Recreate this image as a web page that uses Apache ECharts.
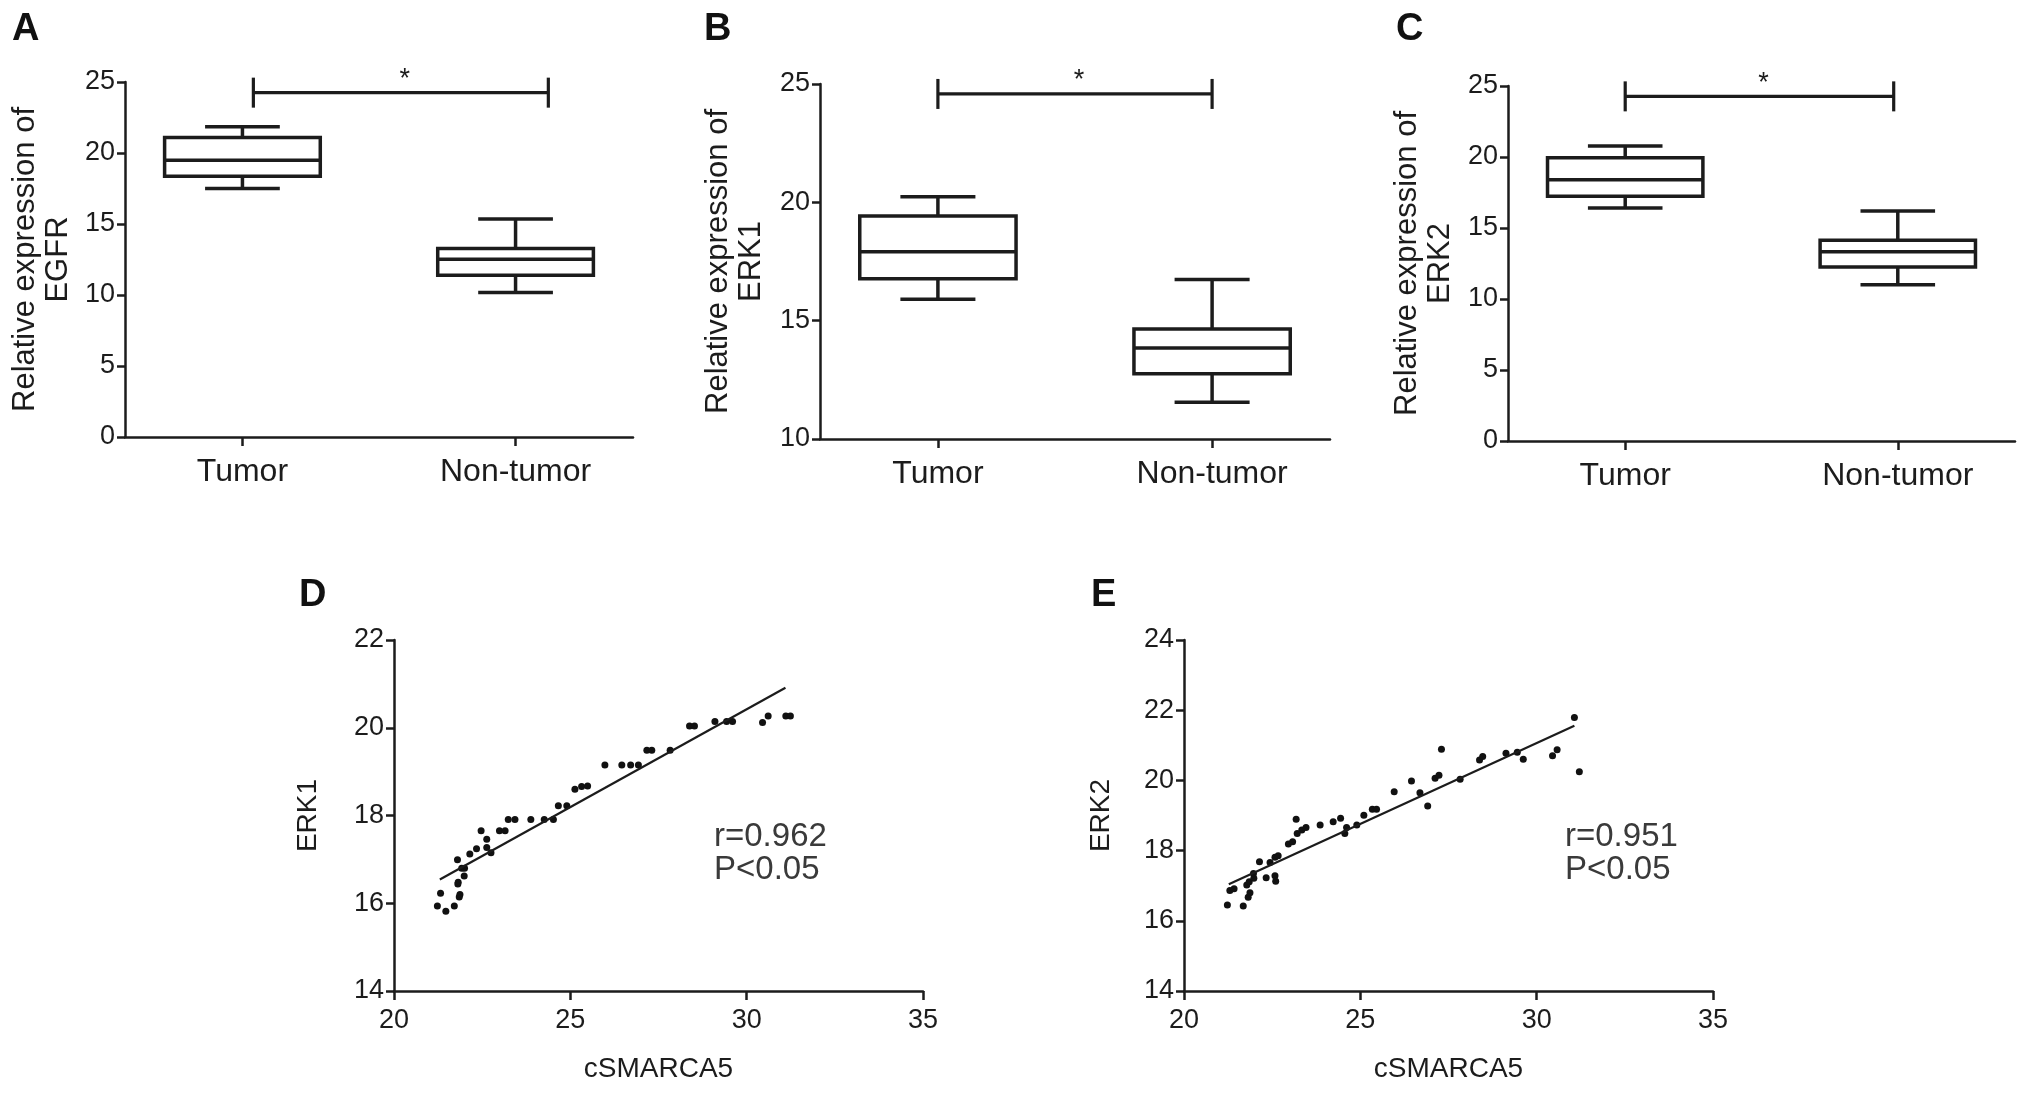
<!DOCTYPE html>
<html>
<head>
<meta charset="utf-8">
<script src="https://cdn.jsdelivr.net/npm/echarts@6/dist/echarts.min.js"></script>
<style>
  html, body { margin: 0; padding: 0; background: #fff; }
  #chart { width: 2031px; height: 1095px; }
</style>
</head>
<body>
<div id="chart"></div>
<script>
const groups = ['Tumor', 'Non-tumor'];
// box stats per group: [min, Q1, median, Q3, max]
const egfrBox = [[17.5, 18.37, 19.49, 21.09, 21.84], [10.17, 11.39, 12.51, 13.28, 15.35]];
const erk1Box = [[15.91, 16.77, 17.91, 19.42, 20.24], [11.55, 12.76, 13.85, 14.65, 16.74]];
const erk2Box = [[16.41, 17.23, 18.40, 19.95, 20.77], [11.0, 12.25, 13.33, 14.13, 16.2]];
// significance bracket: [x from, x to, y]
const sigA = [1.04, 2.12, 24.25];
const sigB = [1.0, 2.0, 24.58];
const sigC = [1.0, 1.985, 24.27];

// cSMARCA5 vs ERK1 / ERK2
const erk1Points = [
  [21.32, 16.23], [21.23, 15.94], [21.47, 15.82], [21.71, 15.94], [21.85, 16.14], [21.87, 16.20],
  [21.81, 16.44], [21.82, 16.48], [21.99, 16.62], [21.80, 16.99], [21.92, 16.80], [22.00, 16.80],
  [22.15, 17.12], [22.34, 17.24], [22.47, 17.65], [22.63, 17.46], [22.63, 17.27], [22.75, 17.15],
  [22.99, 17.65], [23.15, 17.65], [23.24, 17.91], [23.43, 17.91], [23.88, 17.91], [24.26, 17.91],
  [24.52, 17.91], [24.66, 18.22], [24.90, 18.22], [25.13, 18.60], [25.32, 18.66], [25.49, 18.67],
  [25.98, 19.15], [26.46, 19.15], [26.71, 19.15], [26.93, 19.15], [27.17, 19.49], [27.31, 19.49],
  [27.83, 19.49], [28.38, 20.04], [28.52, 20.04], [29.10, 20.14], [29.43, 20.14], [29.60, 20.14],
  [30.45, 20.12], [30.61, 20.27], [31.11, 20.27], [31.24, 20.27]
];
const erk2Points = [
  [21.23, 16.45], [21.68, 16.42], [21.30, 16.86], [21.42, 16.91], [21.82, 16.67], [21.87, 16.80],
  [21.78, 17.02], [21.85, 17.11], [21.98, 17.21], [21.97, 17.35], [22.14, 17.68], [22.33, 17.23],
  [22.58, 17.28], [22.60, 17.13], [22.44, 17.66], [22.58, 17.81], [22.67, 17.85], [22.96, 18.19],
  [23.08, 18.25], [23.21, 18.49], [23.34, 18.59], [23.46, 18.66], [23.18, 18.89], [23.86, 18.73],
  [24.23, 18.82], [24.44, 18.92], [24.56, 18.49], [24.61, 18.66], [24.90, 18.73], [25.10, 19.01],
  [25.34, 19.18], [25.46, 19.18], [25.96, 19.68], [26.45, 19.98], [26.69, 19.65], [26.91, 19.27],
  [27.12, 20.06], [27.23, 20.15], [27.30, 20.89], [27.83, 20.03], [28.38, 20.58], [28.47, 20.68],
  [29.13, 20.77], [29.45, 20.80], [29.62, 20.60], [30.45, 20.70], [30.58, 20.87], [31.07, 21.79],
  [31.21, 20.25]
];
const erk1Fit = [[21.3, 16.54], [31.1, 20.91]];
const erk2Fit = [[21.27, 17.04], [31.07, 21.56]];
const erk1Stats = ['r=0.962', 'P<0.05'];
const erk2Stats = ['r=0.951', 'P<0.05'];

const INK = '#1c1c1c';
const FONT = "'Liberation Sans', Arial, sans-serif";

const chart = echarts.init(document.getElementById('chart'));

function seg(x1, y1, x2, y2, w) {
  return { type: 'line', shape: { x1, y1, x2, y2 }, style: { stroke: INK, lineWidth: w || 3.5 } };
}

function renderBox(params, api) {
  const x = api.value(0);
  const lo = api.coord([x, api.value(1)]);
  const q1 = api.coord([x, api.value(2)]);
  const md = api.coord([x, api.value(3)]);
  const q3 = api.coord([x, api.value(4)]);
  const hi = api.coord([x, api.value(5)]);
  const bw = api.size([1, 0])[0] * 0.57;
  const cw = bw * 0.48;
  const cx = md[0];
  return {
    type: 'group',
    children: [
      { type: 'rect', shape: { x: cx - bw / 2, y: q3[1], width: bw, height: q1[1] - q3[1] },
        style: { stroke: INK, lineWidth: 3.5, fill: 'none' } },
      seg(cx - bw / 2, md[1], cx + bw / 2, md[1]),
      seg(cx, q3[1], cx, hi[1]),
      seg(cx, q1[1], cx, lo[1]),
      seg(cx - cw / 2, hi[1], cx + cw / 2, hi[1]),
      seg(cx - cw / 2, lo[1], cx + cw / 2, lo[1])
    ]
  };
}

function renderSig(params, api) {
  const a = api.coord([api.value(0), api.value(2)]);
  const b = api.coord([api.value(1), api.value(2)]);
  const h = 15;
  return {
    type: 'group',
    children: [
      seg(a[0], a[1], b[0], b[1], 3.2),
      seg(a[0], a[1] - h, a[0], a[1] + h, 3.2),
      seg(b[0], b[1] - h, b[0], b[1] + h, 3.2),
      { type: 'text', style: { text: '*', x: (a[0] + b[0]) / 2 + 4, y: a[1] - 13,
        textAlign: 'center', textVerticalAlign: 'middle', align: 'center', verticalAlign: 'middle',
        font: '27px ' + FONT, fill: INK } }
    ]
  };
}

const grids = [
  { left: 125, top: 82, width: 508, height: 355 },
  { left: 820, top: 84, width: 510, height: 355 },
  { left: 1508, top: 86, width: 507, height: 355 },
  { left: 394, top: 640, width: 529, height: 351 },
  { left: 1184, top: 640, width: 529, height: 351 }
];

const lineStyle = { color: INK, width: 2.5 };

function boxX(gi) {
  return {
    type: 'value', gridIndex: gi, min: 0.57, max: 2.43,
    axisLine: { show: true, onZero: false, lineStyle },
    axisTick: { show: true, length: 9, customValues: [1, 2], lineStyle },
    axisLabel: { customValues: [1, 2], formatter: v => groups[Math.round(v) - 1],
      fontSize: 32, fontFamily: FONT, color: INK, margin: 19 },
    splitLine: { show: false }
  };
}

function numX(gi) {
  return {
    type: 'value', gridIndex: gi, min: 20, max: 35, interval: 5,
    name: 'cSMARCA5', nameLocation: 'middle', nameGap: 64,
    nameTextStyle: { fontSize: 28, fontFamily: FONT, color: INK },
    axisLine: { show: true, onZero: false, lineStyle },
    axisTick: { show: true, length: 9, lineStyle },
    axisLabel: { fontSize: 27, fontFamily: FONT, color: INK, margin: 16 },
    splitLine: { show: false }
  };
}

function numY(gi, min, max, interval, name, gap, size) {
  return {
    type: 'value', gridIndex: gi, min, max, interval,
    name, nameLocation: 'middle', nameGap: gap, nameRotate: 90,
    nameTextStyle: { fontSize: size, lineHeight: 33, fontFamily: FONT, color: INK },
    axisLine: { show: true, onZero: false, lineStyle },
    axisTick: { show: true, length: 8, lineStyle },
    axisLabel: { fontSize: 27, fontFamily: FONT, color: INK, margin: 10 },
    splitLine: { show: false }
  };
}

function boxSeries(idx, boxes) {
  return {
    type: 'custom', xAxisIndex: idx, yAxisIndex: idx, renderItem: renderBox,
    encode: { x: 0, y: [1, 2, 3, 4, 5] },
    data: boxes.map((b, i) => [i + 1].concat(b))
  };
}

function sigSeries(idx, sig) {
  return {
    type: 'custom', xAxisIndex: idx, yAxisIndex: idx, renderItem: renderSig,
    encode: { x: [0, 1], y: 2 }, data: [sig]
  };
}

function letter(text, x, cy) {
  return { type: 'text', left: x, top: cy - 19,
    style: { text, font: 'bold 38px ' + FONT, fill: '#111' } };
}

function stats(lines, x, y) {
  return { type: 'text', left: x, top: y,
    style: { text: lines.join('\n'), font: '33px ' + FONT, lineHeight: 33, fill: '#3a3a3a' } };
}

chart.setOption({
  animation: false,
  backgroundColor: '#fff',
  grid: grids,
  xAxis: [boxX(0), boxX(1), boxX(2), numX(3), numX(4)],
  yAxis: [
    numY(0, 0, 25, 5, 'Relative expression of\nEGFR', 50, 31),
    numY(1, 10, 25, 5, 'Relative expression of\nERK1', 52, 31),
    numY(2, 0, 25, 5, 'Relative expression of\nERK2', 51, 31),
    numY(3, 14, 22, 2, 'ERK1', 69, 28),
    numY(4, 14, 24, 2, 'ERK2', 66, 28)
  ],
  graphic: [
    letter('A', 12, 30), letter('B', 704, 30), letter('C', 1396, 30),
    letter('D', 299, 596), letter('E', 1091, 596),
    stats(erk1Stats, 714, 820), stats(erk2Stats, 1565, 820)
  ],
  series: [
    boxSeries(0, egfrBox), sigSeries(0, sigA),
    boxSeries(1, erk1Box), sigSeries(1, sigB),
    boxSeries(2, erk2Box), sigSeries(2, sigC),
    { type: 'scatter', xAxisIndex: 3, yAxisIndex: 3, data: erk1Points, symbolSize: 7,
      itemStyle: { color: '#111', opacity: 1 } },
    { type: 'line', xAxisIndex: 3, yAxisIndex: 3, data: erk1Fit, symbol: 'none',
      lineStyle: { color: INK, width: 2.2 } },
    { type: 'scatter', xAxisIndex: 4, yAxisIndex: 4, data: erk2Points, symbolSize: 7,
      itemStyle: { color: '#111', opacity: 1 } },
    { type: 'line', xAxisIndex: 4, yAxisIndex: 4, data: erk2Fit, symbol: 'none',
      lineStyle: { color: INK, width: 2.2 } }
  ]
});
</script>
</body>
</html>
